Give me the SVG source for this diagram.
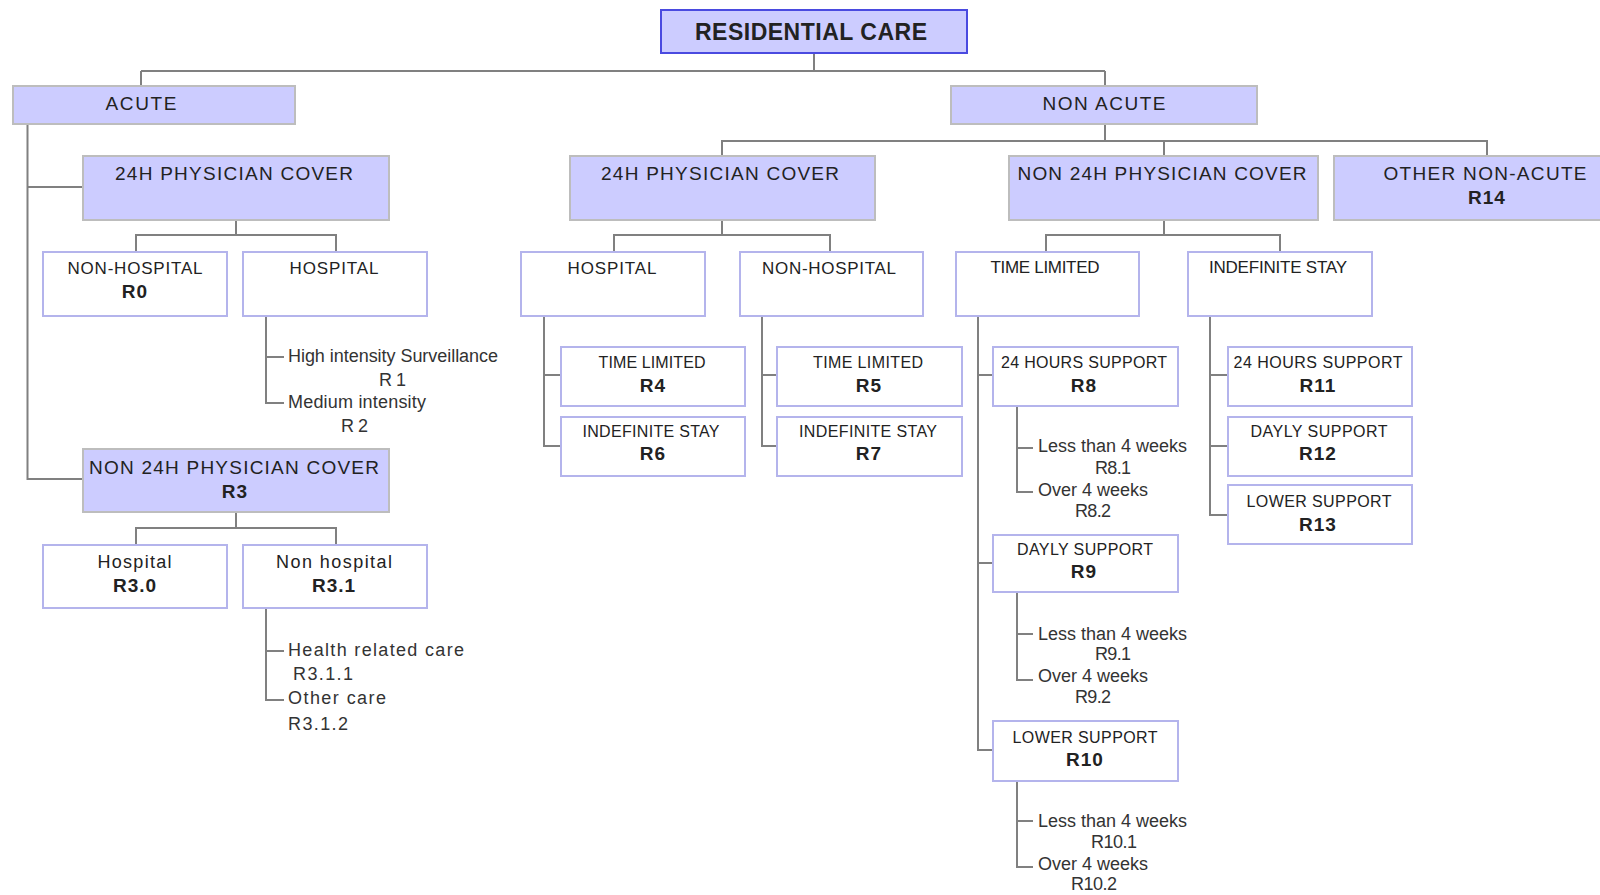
<svg xmlns="http://www.w3.org/2000/svg" width="1600" height="895" viewBox="0 0 1600 895">
<style>
text{font-family:"Liberation Sans",Arial,sans-serif;fill:#222}
.c{text-anchor:middle}
.h{font-size:19px}
.w{font-size:17px}
.s{font-size:16px}
.r{font-size:19px;font-weight:bold;letter-spacing:1px}
.lf{font-size:18px;fill:#333}
.blue{fill:#ccccff;stroke:#bdbdbd;stroke-width:2}
.white{fill:#ffffff;stroke:#b4b4ec;stroke-width:2}
.root{fill:#ccccff;stroke:#4a4ae0;stroke-width:2}
#connectors path{fill:none;stroke:#808080;stroke-width:2}
</style>
<rect width="1600" height="895" fill="#ffffff"/>
<g id="connectors">
<path d="M814 53V71M141 71H1105M141 71V86M1105 71V86"/>
<path d="M27.5 124V479H83M27.5 187H83"/>
<path d="M236 220V235M136 252V235H336V252"/>
<path d="M266 316V403H284M266 357H284"/>
<path d="M236 512V528M136 545V528H336V545"/>
<path d="M266 608V700H284M266 651H284"/>
<path d="M1105 124V141M722 156V141H1487V156M1164 141V156"/>
<path d="M722 220V235M614 252V235H830V252"/>
<path d="M1164 220V235M1046 252V235H1280V252"/>
<path d="M544 316V446H561M544 375H561"/>
<path d="M762 316V446H777M762 375H777"/>
<path d="M978 316V750H993M978 375H993M978 563H993"/>
<path d="M1210 316V515H1228M1210 375H1228M1210 446H1228"/>
<path d="M1017 406V492H1033M1017 448H1033"/>
<path d="M1017 592V680H1033M1017 634H1033"/>
<path d="M1017 781V867H1033M1017 821H1033"/>
</g>
<g id="residential-care"><rect class="root" x="661" y="10" width="306" height="43"/><text class="c" x="811" y="40" style="font-size:23px;font-weight:bold" textLength="232">RESIDENTIAL CARE</text></g>
<g id="acute"><rect class="blue" x="13" y="86" width="282" height="38"/><text class="c h" x="141" y="110" textLength="71">ACUTE</text></g>
<g id="non-acute"><rect class="blue" x="951" y="86" width="306" height="38"/><text class="c h" x="1104" y="110" textLength="123">NON ACUTE</text></g>
<g id="acute-24h"><rect class="blue" x="83" y="156" width="306" height="64"/><text class="c h" x="234" y="180" textLength="238">24H PHYSICIAN COVER</text></g>
<g id="acute-non-hospital"><rect class="white" x="43" y="252" width="184" height="64"/><text class="c w" x="135" y="274" textLength="135">NON-HOSPITAL</text><text class="c r" x="135" y="298">R0</text></g>
<g id="acute-hospital"><rect class="white" x="243" y="252" width="184" height="64"/><text class="c w" x="334" y="274" textLength="89">HOSPITAL</text></g>
<g id="r1"><text class="lf" x="288" y="362" textLength="210">High intensity Surveillance</text><text class="lf" x="379" y="386" textLength="27">R1</text></g>
<g id="r2"><text class="lf" x="288" y="408" textLength="138">Medium intensity</text><text class="lf" x="341" y="432" textLength="27">R2</text></g>
<g id="acute-non24h"><rect class="blue" x="83" y="449" width="306" height="63"/><text class="c h" x="234" y="474" textLength="290">NON 24H PHYSICIAN COVER</text><text class="c r" x="235" y="498">R3</text></g>
<g id="r3-0"><rect class="white" x="43" y="545" width="184" height="63"/><text class="c" x="134.5" y="568" style="font-size:18px" textLength="74">Hospital</text><text class="c r" x="135" y="592">R3.0</text></g>
<g id="r3-1"><rect class="white" x="243" y="545" width="184" height="63"/><text class="c" x="334" y="568" style="font-size:18px" textLength="116">Non hospital</text><text class="c r" x="334" y="592">R3.1</text></g>
<g id="r3-1-1"><text class="lf" x="288" y="656" textLength="176">Health related care</text><text class="lf" x="293" y="680" textLength="60">R3.1.1</text></g>
<g id="r3-1-2"><text class="lf" x="288" y="704" textLength="98">Other care</text><text class="lf" x="288" y="730" textLength="60">R3.1.2</text></g>
<g id="na-24h"><rect class="blue" x="570" y="156" width="305" height="64"/><text class="c h" x="720" y="180" textLength="238">24H PHYSICIAN COVER</text></g>
<g id="na-non24h"><rect class="blue" x="1009" y="156" width="309" height="64"/><text class="c h" x="1162" y="180" textLength="289">NON 24H PHYSICIAN COVER</text></g>
<g id="other-non-acute"><rect class="blue" x="1334" y="156" width="300" height="64"/><text class="c h" x="1485" y="180" textLength="203">OTHER NON-ACUTE</text><text class="c r" x="1487" y="204">R14</text></g>
<g id="na-hospital"><rect class="white" x="521" y="252" width="184" height="64"/><text class="c w" x="612" y="274" textLength="89">HOSPITAL</text></g>
<g id="na-non-hospital"><rect class="white" x="740" y="252" width="183" height="64"/><text class="c w" x="829" y="274" textLength="134">NON-HOSPITAL</text></g>
<g id="time-limited"><rect class="white" x="956" y="252" width="183" height="64"/><text class="c w" x="1045" y="273" textLength="109">TIME LIMITED</text></g>
<g id="indefinite-stay"><rect class="white" x="1188" y="252" width="184" height="64"/><text class="c w" x="1278" y="273" textLength="138">INDEFINITE STAY</text></g>
<g id="r4"><rect class="white" x="561" y="347" width="184" height="59"/><text class="c s" x="652" y="368" textLength="107">TIME LIMITED</text><text class="c r" x="653" y="392">R4</text></g>
<g id="r6"><rect class="white" x="561" y="417" width="184" height="59"/><text class="c s" x="651" y="437" textLength="137">INDEFINITE STAY</text><text class="c r" x="653" y="460">R6</text></g>
<g id="r5"><rect class="white" x="777" y="347" width="185" height="59"/><text class="c s" x="868" y="368" textLength="110">TIME LIMITED</text><text class="c r" x="869" y="392">R5</text></g>
<g id="r7"><rect class="white" x="777" y="417" width="185" height="59"/><text class="c s" x="868" y="437" textLength="138">INDEFINITE STAY</text><text class="c r" x="869" y="460">R7</text></g>
<g id="r8"><rect class="white" x="993" y="347" width="185" height="59"/><text class="c s" x="1084" y="368" textLength="166">24 HOURS SUPPORT</text><text class="c r" x="1084" y="392">R8</text></g>
<g id="r8-1"><text class="lf" x="1038" y="452" textLength="149">Less than 4 weeks</text><text class="lf" x="1095" y="474" textLength="36">R8.1</text></g>
<g id="r8-2"><text class="lf" x="1038" y="496" textLength="110">Over 4 weeks</text><text class="lf" x="1075" y="517" textLength="36">R8.2</text></g>
<g id="r9"><rect class="white" x="993" y="535" width="185" height="57"/><text class="c s" x="1085" y="555" textLength="136">DAYLY SUPPORT</text><text class="c r" x="1084" y="578">R9</text></g>
<g id="r9-1"><text class="lf" x="1038" y="640" textLength="149">Less than 4 weeks</text><text class="lf" x="1095" y="660" textLength="36">R9.1</text></g>
<g id="r9-2"><text class="lf" x="1038" y="682" textLength="110">Over 4 weeks</text><text class="lf" x="1075" y="703" textLength="36">R9.2</text></g>
<g id="r10"><rect class="white" x="993" y="721" width="185" height="60"/><text class="c s" x="1085" y="743" textLength="145">LOWER SUPPORT</text><text class="c r" x="1085" y="766">R10</text></g>
<g id="r10-1"><text class="lf" x="1038" y="827" textLength="149">Less than 4 weeks</text><text class="lf" x="1091" y="848" textLength="46">R10.1</text></g>
<g id="r10-2"><text class="lf" x="1038" y="870" textLength="110">Over 4 weeks</text><text class="lf" x="1071" y="890" textLength="46">R10.2</text></g>
<g id="r11"><rect class="white" x="1228" y="347" width="184" height="59"/><text class="c s" x="1318" y="368" textLength="169">24 HOURS SUPPORT</text><text class="c r" x="1318" y="392">R11</text></g>
<g id="r12"><rect class="white" x="1228" y="417" width="184" height="59"/><text class="c s" x="1319" y="437" textLength="137">DAYLY SUPPORT</text><text class="c r" x="1318" y="460">R12</text></g>
<g id="r13"><rect class="white" x="1228" y="485" width="184" height="59"/><text class="c s" x="1319" y="507" textLength="145">LOWER SUPPORT</text><text class="c r" x="1318" y="531">R13</text></g>
</svg>
